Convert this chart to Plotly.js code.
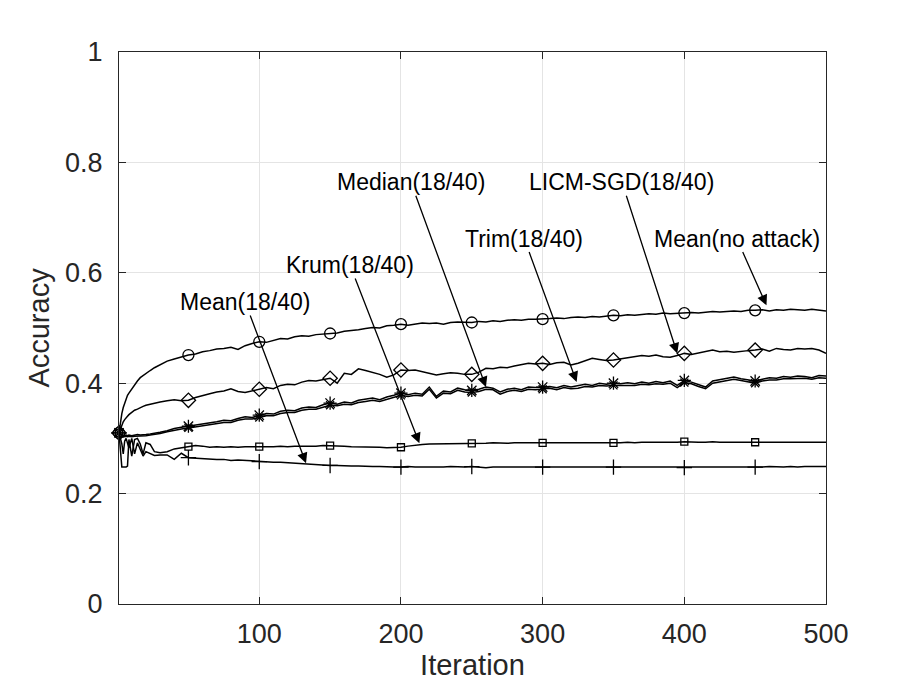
<!DOCTYPE html>
<html>
<head>
<meta charset="utf-8">
<script src="https://cdn.plot.ly/plotly-3.0.1.min.js"></script>
<style>html,body{margin:0;padding:0;background:#fff;}#chart{width:913px;height:685px;}</style>
</head>
<body>
<div id="chart"></div>
<script>
const iterations = [1,2,3,4,5,6,7,8,10,12,14,16,18,20,23,26,30,35,40,45,
  50,55,60,65,70,75,80,85,90,95,
  100,105,110,115,120,125,130,135,140,145,
  150,155,160,165,170,175,180,185,190,195,
  200,205,210,215,220,225,230,235,240,245,
  250,255,260,265,270,275,280,285,290,295,
  300,305,310,315,320,325,330,335,340,345,
  350,355,360,365,370,375,380,385,390,395,
  400,405,410,415,420,425,430,435,440,445,
  450,455,460,465,470,475,480,485,490,495,
  500];

const meanNoAttack = [0.31,0.33,0.345,0.356,0.365,0.372,0.378,0.382,0.39,0.398,0.404,0.41,0.414,0.418,0.423,0.428,0.433,0.44,0.444,0.448,
  0.451,0.453,0.457,0.459,0.462,0.463,0.465,0.461,0.468,0.472,
  0.475,0.474,0.478,0.481,0.480,0.484,0.486,0.485,0.488,0.489,
  0.490,0.491,0.494,0.495,0.497,0.499,0.501,0.500,0.504,0.505,
  0.507,0.505,0.507,0.509,0.508,0.509,0.507,0.510,0.511,0.510,
  0.510,0.512,0.511,0.513,0.512,0.514,0.515,0.514,0.516,0.516,
  0.516,0.517,0.518,0.517,0.519,0.520,0.519,0.521,0.520,0.522,
  0.523,0.522,0.524,0.523,0.525,0.526,0.525,0.527,0.526,0.527,
  0.527,0.528,0.527,0.529,0.530,0.529,0.530,0.531,0.530,0.532,
  0.532,0.533,0.531,0.533,0.532,0.534,0.533,0.532,0.534,0.532,
  0.531];

const licmSgd = [0.31,0.318,0.325,0.33,0.334,0.338,0.34,0.343,0.347,0.351,0.353,0.356,0.358,0.36,0.362,0.364,0.366,0.368,0.37,0.368,
  0.369,0.374,0.378,0.381,0.384,0.386,0.390,0.385,0.383,0.386,
  0.389,0.392,0.390,0.396,0.398,0.397,0.402,0.405,0.404,0.407,
  0.409,0.400,0.418,0.416,0.426,0.423,0.420,0.416,0.411,0.415,
  0.424,0.423,0.424,0.421,0.419,0.415,0.417,0.419,0.418,0.416,
  0.416,0.420,0.427,0.426,0.429,0.428,0.431,0.433,0.436,0.435,
  0.436,0.434,0.437,0.438,0.433,0.436,0.440,0.445,0.443,0.441,
  0.442,0.444,0.446,0.448,0.450,0.449,0.451,0.448,0.447,0.450,
  0.454,0.452,0.455,0.458,0.460,0.457,0.458,0.456,0.458,0.459,
  0.460,0.462,0.458,0.463,0.461,0.460,0.463,0.462,0.463,0.460,
  0.454];

const median = [0.31,0.308,0.306,0.305,0.305,0.306,0.305,0.306,0.305,0.306,0.307,0.306,0.307,0.307,0.308,0.309,0.311,0.314,0.318,0.320,
  0.322,0.324,0.326,0.327,0.330,0.333,0.332,0.336,0.339,0.338,
  0.342,0.345,0.344,0.349,0.351,0.350,0.355,0.357,0.356,0.361,
  0.364,0.362,0.366,0.364,0.369,0.371,0.373,0.370,0.375,0.378,
  0.382,0.379,0.382,0.380,0.393,0.376,0.386,0.384,0.391,0.388,
  0.387,0.389,0.393,0.391,0.384,0.389,0.391,0.388,0.393,0.392,
  0.393,0.394,0.392,0.396,0.393,0.395,0.398,0.396,0.400,0.398,
  0.400,0.399,0.401,0.399,0.402,0.400,0.403,0.401,0.404,0.396,
  0.405,0.402,0.398,0.393,0.404,0.406,0.409,0.411,0.408,0.406,
  0.404,0.407,0.410,0.409,0.412,0.411,0.413,0.412,0.410,0.414,
  0.413];

const trim = [0.31,0.307,0.305,0.304,0.303,0.304,0.303,0.304,0.303,0.304,0.304,0.304,0.305,0.305,0.306,0.307,0.309,0.312,0.315,0.317,
  0.319,0.321,0.322,0.324,0.327,0.329,0.329,0.333,0.335,0.335,
  0.338,0.341,0.341,0.345,0.347,0.347,0.351,0.353,0.353,0.357,
  0.360,0.359,0.362,0.361,0.365,0.367,0.369,0.367,0.371,0.374,
  0.378,0.376,0.378,0.377,0.389,0.373,0.382,0.381,0.387,0.384,
  0.383,0.385,0.389,0.388,0.380,0.385,0.387,0.385,0.389,0.388,
  0.389,0.391,0.388,0.392,0.390,0.391,0.394,0.393,0.396,0.395,
  0.396,0.396,0.397,0.396,0.398,0.397,0.399,0.398,0.400,0.392,
  0.401,0.399,0.394,0.390,0.400,0.402,0.405,0.407,0.405,0.402,
  0.400,0.404,0.406,0.406,0.408,0.408,0.409,0.409,0.407,0.410,
  0.409];

const krum = [0.31,0.28,0.248,0.248,0.248,0.248,0.250,0.298,0.268,0.298,0.300,0.290,0.272,0.292,0.289,0.276,0.274,0.276,0.281,0.283,
  0.285,0.287,0.286,0.284,0.285,0.284,0.285,0.284,0.285,0.285,
  0.285,0.284,0.285,0.286,0.285,0.286,0.286,0.285,0.286,0.287,
  0.287,0.286,0.286,0.285,0.285,0.284,0.284,0.284,0.283,0.283,
  0.284,0.286,0.288,0.289,0.290,0.290,0.290,0.290,0.291,0.291,
  0.291,0.291,0.291,0.292,0.291,0.291,0.292,0.292,0.291,0.292,
  0.292,0.292,0.292,0.291,0.292,0.292,0.291,0.292,0.292,0.292,
  0.292,0.292,0.293,0.292,0.293,0.293,0.292,0.293,0.293,0.293,
  0.294,0.293,0.293,0.293,0.294,0.293,0.293,0.293,0.293,0.293,
  0.293,0.293,0.293,0.293,0.293,0.293,0.293,0.293,0.293,0.293,
  0.293];

const meanAttack = [0.31,0.300,0.290,0.272,0.295,0.300,0.290,0.283,0.300,0.272,0.292,0.280,0.268,0.276,0.272,0.269,0.270,0.270,0.262,0.273,
  0.265,0.264,0.263,0.263,0.262,0.262,0.260,0.261,0.260,0.259,
  0.258,0.258,0.257,0.257,0.256,0.255,0.254,0.254,0.253,0.252,
  0.251,0.251,0.250,0.250,0.250,0.249,0.249,0.249,0.248,0.248,
  0.248,0.249,0.248,0.248,0.247,0.248,0.248,0.249,0.248,0.248,
  0.249,0.248,0.247,0.248,0.248,0.247,0.248,0.247,0.248,0.248,
  0.248,0.247,0.248,0.247,0.248,0.247,0.247,0.248,0.247,0.247,
  0.248,0.247,0.247,0.248,0.247,0.247,0.248,0.247,0.248,0.247,
  0.247,0.248,0.247,0.247,0.248,0.248,0.247,0.248,0.248,0.248,
  0.248,0.248,0.249,0.248,0.248,0.249,0.248,0.249,0.249,0.248,
  0.249];

const markerIters = [1,50,100,150,200,250,300,350,400,450];

const labels = ['Mean(18/40)','Krum(18/40)','Median(18/40)','Trim(18/40)','LICM-SGD(18/40)','Mean(no attack)'];
const tipIter = [133, 213, 260, 324, 395, 458];
const tipAcc  = [0.255, 0.291, 0.393, 0.402, 0.454, 0.541];
const textIter = [90, 164, 207, 287, 356, 437];
const textAcc  = [0.547, 0.614, 0.764, 0.662, 0.764, 0.662];

const FONT = 'Liberation Sans, Arial, Helvetica, sans-serif';
const INK = '#262626';

const seriesDefs = [
  {y: meanNoAttack, symbol: 'circle-open', size: 11},
  {y: licmSgd, symbol: 'diamond-open', size: 11},
  {y: median, symbol: 'asterisk-open', size: 11},
  {y: trim, symbol: 'x-thin-open', size: 8},
  {y: krum, symbol: 'square-open', size: 7},
  {y: meanAttack, symbol: 'cross-thin-open', size: 11}
];

const traces = [];
seriesDefs.forEach(s => {
  traces.push({x: iterations, y: s.y, mode: 'lines', type: 'scatter',
    line: {color: '#000', width: 1.5}, hoverinfo: 'skip', showlegend: false});
});
seriesDefs.forEach(s => {
  const my = markerIters.map(m => s.y[iterations.indexOf(m)]);
  traces.push({x: markerIters, y: my, mode: 'markers', type: 'scatter',
    marker: {symbol: s.symbol, size: s.size, color: '#000', line: {color: '#000', width: 1.3}},
    hoverinfo: 'skip', showlegend: false, cliponaxis: false});
});

const annotations = labels.map((t, i) => ({
  x: tipIter[i], y: tipAcc[i], xref: 'x', yref: 'y',
  ax: textIter[i], ay: textAcc[i], axref: 'x', ayref: 'y',
  text: t, showarrow: true, arrowhead: 2, arrowsize: 1.6, arrowwidth: 1.3,
  arrowcolor: '#000', font: {family: FONT, size: 23, color: '#000'}, borderpad: 0
}));

const layout = {
  width: 913, height: 685,
  margin: {l: 119, r: 87, t: 52, b: 81, pad: 0},
  paper_bgcolor: '#fff', plot_bgcolor: '#fff',
  font: {family: FONT, color: INK},
  xaxis: {
    range: [1, 500], tickvals: [100, 200, 300, 400, 500],
    ticks: 'inside', ticklen: 7, tickwidth: 1, tickcolor: INK,
    showline: true, linecolor: INK, linewidth: 1, mirror: 'ticks',
    showgrid: true, gridcolor: '#e4e4e4', gridwidth: 1, zeroline: false,
    tickfont: {family: FONT, size: 27, color: INK}, ticklabelstandoff: 6,
    title: {text: 'Iteration', font: {family: FONT, size: 29, color: INK}, standoff: 4},
    automargin: false
  },
  yaxis: {
    range: [0, 1], tickvals: [0, 0.2, 0.4, 0.6, 0.8, 1],
    ticktext: ['0', '0.2', '0.4', '0.6', '0.8', '1'],
    ticks: 'inside', ticklen: 7, tickwidth: 1, tickcolor: INK,
    showline: true, linecolor: INK, linewidth: 1, mirror: 'ticks',
    showgrid: true, gridcolor: '#e4e4e4', gridwidth: 1, zeroline: false,
    tickfont: {family: FONT, size: 27, color: INK}, ticklabelstandoff: 10,
    title: {text: 'Accuracy', font: {family: FONT, size: 29, color: INK}, standoff: 6},
    automargin: false
  },
  annotations: annotations,
  showlegend: false
};

Plotly.newPlot('chart', traces, layout, {displayModeBar: false, staticPlot: true});
</script>
</body>
</html>
